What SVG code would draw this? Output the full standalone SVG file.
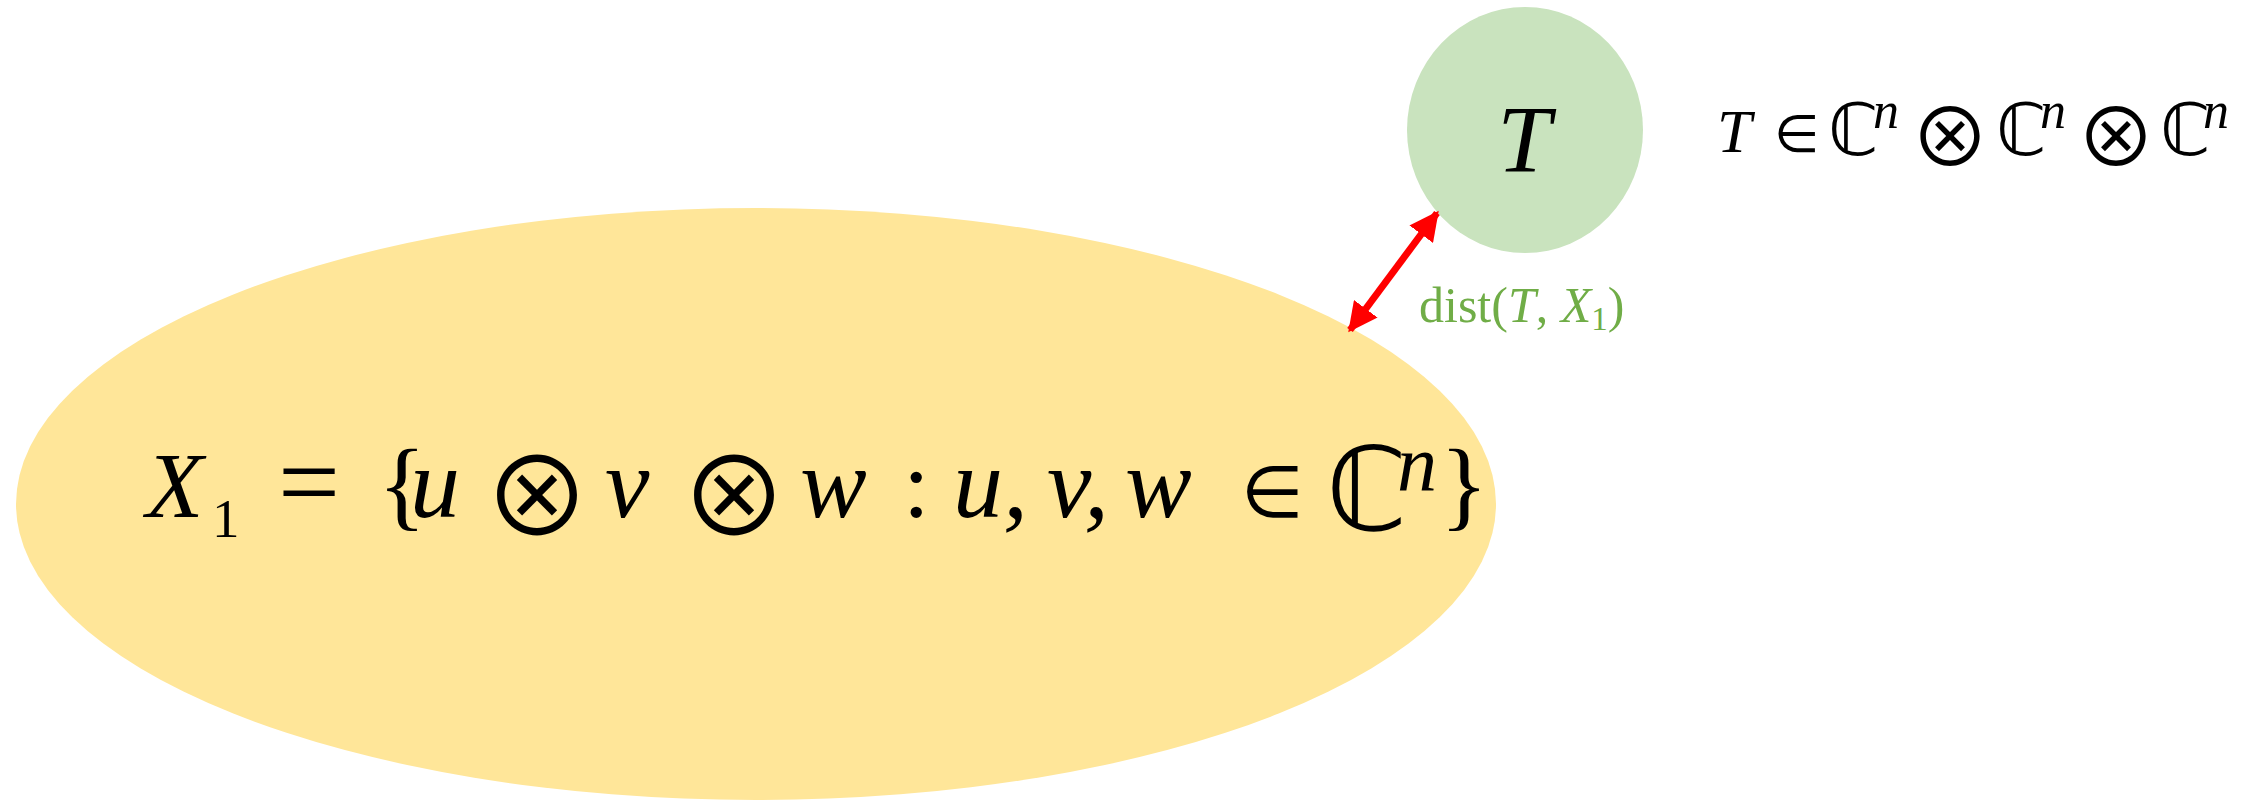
<svg xmlns="http://www.w3.org/2000/svg" width="2261" height="800" viewBox="0 0 2261 800">
<style>
.m{font-family:"Liberation Serif","DejaVu Serif",serif;fill:#000}
.i{font-style:italic}
.s{font-family:"DejaVu Sans","Liberation Sans",sans-serif;fill:#000}
.o{font-family:"Noto Sans CJK JP","DejaVu Sans",sans-serif;fill:#000;text-anchor:middle}
.g{fill:#70AD47}
</style>
<defs>
<marker id="ah" viewBox="0 0 10 10" refX="9" refY="5" markerWidth="4.2" markerHeight="4.2" orient="auto-start-reverse" markerUnits="strokeWidth">
<path d="M0,0 L10,5 L0,10 Z" fill="#FF0000"/>
</marker>
</defs>
<rect width="2261" height="800" fill="#fff"/>
<g id="set-X1">
<ellipse cx="756" cy="504" rx="740" ry="296" fill="#FFE699"/>
<text class="m i" x="146" y="517" font-size="94">X</text>
<text class="m" x="212" y="537" font-size="55">1</text>
<text class="m" x="278" y="519" font-size="110">=</text>
<text class="m" x="378" y="518" font-size="100">{</text>
<text class="m i" x="410" y="517" font-size="100">u</text>
<text class="o" x="537" y="536" font-size="108">⊗</text>
<text class="m i" x="605" y="517" font-size="100">v</text>
<text class="o" x="734" y="536" font-size="108">⊗</text>
<text class="m i" x="800" y="517" font-size="100">w</text>
<text class="m" x="903" y="517" font-size="96">:</text>
<text class="m i" x="953" y="517" font-size="100">u,</text>
<text class="m i" x="1047" y="517" font-size="100">v,</text>
<text class="m i" x="1125" y="517" font-size="100">w</text>
<text class="s" x="1241" y="517" font-size="72">∈</text>
<text class="s" x="1326" y="530" font-size="116">ℂ</text>
<text class="m i" x="1397" y="490" font-size="80">n</text>
<text class="m" x="1440" y="518" font-size="100">}</text>
</g>
<g id="tensor-T">
<ellipse cx="1525" cy="130" rx="118" ry="123" fill="#C9E3BE"/>
<text class="m i" x="1524" y="172" font-size="96" text-anchor="middle">T</text>
</g>
<g id="T-membership">
<text class="m i" x="1717" y="152" font-size="62">T</text>
<text class="s" x="1774" y="152" font-size="52">∈</text>
<text class="s" x="1828" y="155" font-size="72">ℂ</text>
<text class="m i" x="1873" y="128" font-size="52">n</text>
<text class="o" x="1950" y="166" font-size="80">⊗</text>
<text class="s" x="1996" y="155" font-size="72">ℂ</text>
<text class="m i" x="2040" y="128" font-size="52">n</text>
<text class="o" x="2116" y="166" font-size="80">⊗</text>
<text class="s" x="2160" y="155" font-size="72">ℂ</text>
<text class="m i" x="2203" y="128" font-size="52">n</text>
</g>
<g id="connectors">
<line x1="1437" y1="213" x2="1350" y2="330" stroke="#FF0000" stroke-width="7" marker-start="url(#ah)" marker-end="url(#ah)"/>
<text class="m g" x="1419" y="322" font-size="50">dist(<tspan font-style="italic">T</tspan>, <tspan font-style="italic">X</tspan><tspan font-size="33" dy="8">1</tspan><tspan dy="-8">)</tspan></text>
</g>
</svg>
